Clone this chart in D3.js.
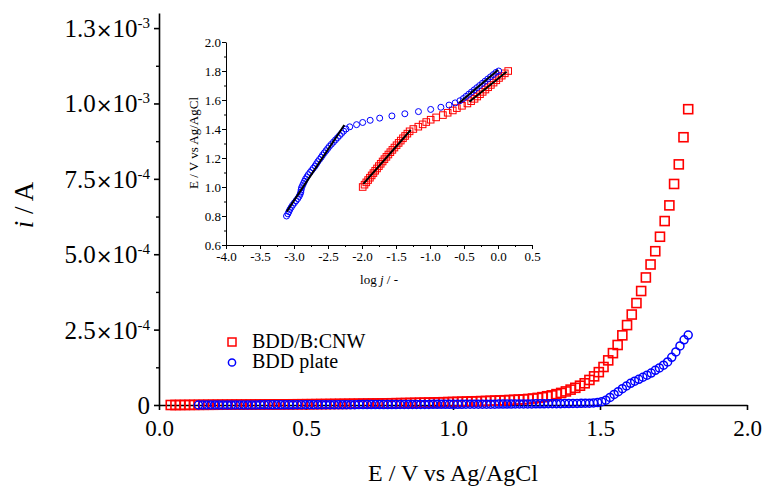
<!DOCTYPE html>
<html><head><meta charset="utf-8">
<script src="https://cdn.jsdelivr.net/npm/d3@7"></script>
<style>
body{margin:0;background:#fff}
svg{display:block}
text{font-family:"Liberation Serif","Times New Roman",serif;fill:#000}
</style>
</head><body>
<svg id="c" width="765" height="487"></svg>
<script>
// ---------------- DATA ----------------
// Main chart: current (units of 1e-4 A) vs potential (V vs Ag/AgCl)
const redE = [0.040,0.056,0.072,0.088,0.104,0.120,0.136,0.152,0.168,0.184,0.200,0.216,0.232,0.248,0.264,0.280,0.296,0.312,0.328,0.344,0.360,0.376,0.392,0.408,0.424,0.440,0.456,0.472,0.488,0.504,0.520,0.536,0.552,0.568,0.584,0.600,0.616,0.632,0.648,0.664,0.680,0.696,0.712,0.728,0.744,0.760,0.776,0.792,0.808,0.824,0.840,0.856,0.872,0.888,0.904,0.920,0.936,0.952,0.968,0.984,1.000,1.016,1.032,1.048,1.064,1.080,1.096,1.112,1.128,1.144,1.160,1.176,1.192,1.208,1.224,1.240,1.256,1.272,1.288,1.304,1.320,1.336,1.352,1.368,1.384,1.400,1.416,1.432,1.448,1.464,1.480,1.496,1.512,1.528,1.544,1.560,1.576,1.592,1.608,1.624,1.640,1.656,1.672,1.688,1.704,1.720,1.736,1.752,1.768,1.784,1.800];
const redI = [0.000,0.000,0.001,0.002,0.003,0.004,0.005,0.006,0.007,0.008,0.009,0.010,0.011,0.012,0.013,0.013,0.014,0.015,0.016,0.017,0.018,0.019,0.020,0.021,0.022,0.023,0.024,0.025,0.026,0.027,0.028,0.030,0.031,0.032,0.034,0.035,0.037,0.038,0.040,0.041,0.043,0.045,0.047,0.049,0.051,0.053,0.056,0.058,0.061,0.063,0.066,0.069,0.072,0.075,0.078,0.081,0.085,0.089,0.093,0.097,0.101,0.105,0.110,0.114,0.119,0.124,0.129,0.134,0.140,0.146,0.152,0.158,0.165,0.172,0.180,0.189,0.200,0.215,0.235,0.26,0.29,0.32,0.36,0.40,0.45,0.51,0.57,0.64,0.72,0.83,0.95,1.09,1.26,1.48,1.72,1.99,2.31,2.65,3.00,3.38,3.78,4.23,4.66,5.10,5.58,6.10,6.62,7.33,7.98,8.88,9.81];

const blueE = [0.134,0.148,0.162,0.176,0.190,0.204,0.218,0.232,0.246,0.260,0.274,0.288,0.302,0.316,0.330,0.344,0.358,0.372,0.386,0.400,0.414,0.428,0.442,0.456,0.470,0.484,0.498,0.512,0.526,0.540,0.554,0.568,0.582,0.596,0.610,0.624,0.638,0.652,0.666,0.680,0.694,0.708,0.722,0.736,0.750,0.764,0.778,0.792,0.806,0.820,0.834,0.848,0.862,0.876,0.890,0.904,0.918,0.932,0.946,0.960,0.974,0.988,1.002,1.016,1.030,1.044,1.058,1.072,1.086,1.100,1.114,1.128,1.142,1.156,1.170,1.184,1.198,1.212,1.226,1.240,1.254,1.268,1.282,1.296,1.310,1.324,1.338,1.352,1.366,1.380,1.394,1.408,1.422,1.436,1.450,1.464,1.478,1.492,1.506,1.520,1.534,1.548,1.562,1.576,1.590,1.604,1.618,1.632,1.646,1.660,1.674,1.688,1.702,1.716,1.730,1.744,1.758,1.772,1.786,1.800];
const blueI = [0.000,0.000,0.000,0.001,0.001,0.001,0.002,0.002,0.002,0.003,0.003,0.003,0.004,0.004,0.004,0.005,0.005,0.005,0.006,0.006,
0.006,0.007,0.007,0.007,0.008,0.008,0.008,0.009,0.009,0.009,0.010,0.010,0.010,0.011,0.011,0.011,0.012,0.012,0.012,0.013,
0.013,0.013,0.014,0.014,0.015,0.015,0.015,0.016,0.016,0.017,0.017,0.018,0.018,0.019,0.019,0.020,0.020,0.021,0.021,0.022,
0.022,0.023,0.023,0.024,0.024,0.025,0.025,0.026,0.027,0.027,0.028,0.029,0.029,0.030,0.031,0.031,0.032,0.033,0.034,0.035,
0.036,0.037,0.038,0.039,0.040,0.041,0.042,0.043,0.045,0.046,0.048,0.050,0.052,0.055,
0.058,0.062,0.068,0.080,0.11,0.16,0.25,0.35,0.44,0.54,0.63,0.72,0.79,0.85,0.92,0.99,1.06,1.15,1.23,1.32,1.43,1.58,1.76,1.96,2.16,2.32];

const xTicks = [0, 0.5, 1.0, 1.5, 2.0];
const xTickLabels = ["0.0","0.5","1.0","1.5","2.0"];
const yTicks = [0, 2.5, 5.0, 7.5, 10.0, 12.5];           // units of 1e-4 A
const yMinorTicks = [1.25, 3.75, 6.25, 8.75, 11.25];
const yTickMantissa = ["0","2.5","5.0","7.5","1.0","1.3"];
const yTickExponent = ["","-4","-4","-4","-3","-3"];
const seriesNames = ["BDD/B:CNW","BDD plate"];

// Inset: E vs log j
const insetRedE = [1.000,1.016,1.032,1.048,1.064,1.080,1.096,1.112,1.128,1.144,1.160,1.176,1.192,1.208,1.224,1.240,1.256,1.272,1.288,1.304,1.320,1.336,1.352,1.368,1.384,1.400,1.416,1.432,1.448,1.464,1.480,1.496,1.512,1.528,1.544,1.560,1.576,1.592,1.608,1.624,1.640,1.656,1.672,1.688,1.704,1.720,1.736,1.752,1.768,1.784,1.800];
const insetRedLogJ = [-1.990,-1.963,-1.937,-1.910,-1.884,-1.858,-1.832,-1.806,-1.779,-1.752,-1.725,-1.697,-1.670,-1.641,-1.612,-1.583,-1.553,-1.523,-1.492,-1.461,-1.430,-1.398,-1.366,-1.333,-1.300,-1.245,-1.172,-1.108,-1.055,-0.990,-0.910,-0.810,-0.740,-0.665,-0.605,-0.530,-0.450,-0.395,-0.345,-0.305,-0.265,-0.225,-0.185,-0.145,-0.105,-0.065,-0.025,0.015,0.055,0.100,0.150];

const insetBlueE = [0.800,0.815,0.830,0.845,0.860,0.875,0.890,0.905,0.920,0.935,0.950,0.965,0.980,0.995,1.010,1.025,1.040,1.055,1.070,1.085,1.100,1.115,1.130,1.145,1.160,1.175,1.190,1.205,1.220,1.235,1.250,1.265,1.280,1.295,1.310,1.325,1.340,1.355,1.370,1.385,1.400,1.415,1.430,1.445,1.460,1.475,1.490,1.505,1.520,1.535,1.550,1.565,1.580,1.595,1.610,1.625,1.640,1.655,1.670,1.685,1.700,1.715,1.730,1.745,1.760,1.775,1.790,1.800];
const insetBlueLogJ = [-3.110,-3.090,-3.075,-3.060,-3.040,-3.020,-2.995,-2.970,-2.945,-2.925,-2.910,-2.900,-2.895,-2.890,-2.875,-2.860,-2.845,-2.830,-2.810,-2.790,-2.765,-2.740,-2.715,-2.690,-2.670,-2.650,-2.625,-2.600,-2.580,-2.555,-2.530,-2.505,-2.480,-2.450,-2.420,-2.390,-2.360,-2.330,-2.300,-2.270,-2.235,-2.180,-2.080,-1.990,-1.880,-1.740,-1.560,-1.370,-1.170,-0.990,-0.840,-0.720,-0.630,-0.560,-0.510,-0.470,-0.430,-0.390,-0.350,-0.310,-0.270,-0.230,-0.190,-0.150,-0.110,-0.070,-0.030,0.010];

// Tafel fit lines (log j, E) end points
const fitBlueLowLogJ = [-3.108, -2.260], fitBlueLowE = [0.830, 1.428];
const fitRedLowLogJ  = [-1.980, -1.284], fitRedLowE  = [1.021, 1.393];
const fitBlueHighLogJ= [-0.569, 0.000],  fitBlueHighE= [1.581, 1.807];
const fitRedHighLogJ = [-0.422, 0.127],  fitRedHighE = [1.588, 1.795];

const insetXTicks = [-4.0,-3.5,-3.0,-2.5,-2.0,-1.5,-1.0,-0.5,0.0,0.5];
const insetXMinor = [-3.75,-3.25,-2.75,-2.25,-1.75,-1.25,-0.75,-0.25,0.25];
const insetYTicks = [0.6,0.8,1.0,1.2,1.4,1.6,1.8,2.0];
const insetYMinor = [0.7,0.9,1.1,1.3,1.5,1.7,1.9];

const RED = "#ff0000", BLUE = "#0000ff";

// ---------------- DRAW ----------------
const svg = d3.select("#c");
const FONT = '"Liberation Serif","Times New Roman",serif';

// Main scales
const x = d3.scaleLinear().domain([0, 2]).range([159, 747]);
const y = d3.scaleLinear().domain([0, 13]).range([405, 13]);

function styleAxis(g, w){
  g.selectAll("path,line").attr("stroke","#000").attr("stroke-width",w);
  g.attr("font-family", FONT);
}

// x axis
const gx = svg.append("g").attr("transform","translate(0,405)")
  .call(d3.axisBottom(x).tickValues(xTicks).tickSize(5).tickSizeOuter(0)
        .tickFormat((d,i)=>xTickLabels[i]));
styleAxis(gx,1.6);
gx.selectAll("text").attr("font-size",23).attr("y",31).attr("dy",null).attr("fill","#000");

// y axis
const gy = svg.append("g").attr("transform","translate(159,0)")
  .call(d3.axisLeft(y).tickValues(yTicks).tickSize(5).tickSizeOuter(0).tickFormat(""));
styleAxis(gy,1.6);
svg.append("g").attr("transform","translate(159,0)")
  .call(d3.axisLeft(y).tickValues(yMinorTicks).tickSize(3).tickFormat(""))
  .call(g=>{g.select(".domain").remove(); styleAxis(g,1.4);});

// y tick labels with superscripts
yTicks.forEach((t,i)=>{
  const tx = svg.append("text").attr("x",150).attr("y",y(t)+9)
    .attr("text-anchor","end").attr("font-size",25);
  tx.append("tspan").text(yTickMantissa[i]);
  if (yTickExponent[i]) {
    tx.append("tspan").attr("font-family","DejaVu Sans").attr("font-size",20).text("\u00d7");
    tx.append("tspan").text("10");
    tx.append("tspan").attr("font-size",15).attr("dy",-9).text(yTickExponent[i]);
  }
});

// axis titles
svg.append("text").attr("x",453).attr("y",481).attr("text-anchor","middle")
  .attr("font-size",24).text("E / V vs Ag/AgCl");
const yt = svg.append("text").attr("transform","translate(33,205) rotate(-90)")
  .attr("text-anchor","middle").attr("font-size",27);
yt.append("tspan").attr("font-style","italic").text("i");
yt.append("tspan").text(" / A");

// main data
const red = redE.map((e,i)=>({e, v:redI[i]}));
const blue = blueE.map((e,i)=>({e, v:blueI[i]}));
const SQ = 9;
svg.append("g").selectAll("rect").data(red).join("rect")
  .attr("x",d=>x(d.e)-SQ/2).attr("y",d=>y(d.v)-SQ/2).attr("width",SQ).attr("height",SQ)
  .attr("fill","none").attr("stroke",RED).attr("stroke-width",1.6);
svg.append("g").selectAll("circle").data(blue).join("circle")
  .attr("cx",d=>x(d.e)).attr("cy",d=>y(d.v)).attr("r",4)
  .attr("fill","none").attr("stroke",BLUE).attr("stroke-width",1.5);

// legend
const lg = svg.append("g");
lg.append("rect").attr("x",232-4).attr("y",342-4).attr("width",8).attr("height",8)
  .attr("fill","none").attr("stroke",RED).attr("stroke-width",1.5);
lg.append("circle").attr("cx",232).attr("cy",362.5).attr("r",3.6)
  .attr("fill","none").attr("stroke",BLUE).attr("stroke-width",1.5);
lg.append("text").attr("x",252).attr("y",348).attr("font-size",20).text(seriesNames[0]);
lg.append("text").attr("x",252).attr("y",368).attr("font-size",20).text(seriesNames[1]);

// ---------------- INSET ----------------
const ix = d3.scaleLinear().domain([-4, 0.5]).range([226, 532]);
const iy = d3.scaleLinear().domain([0.6, 2.0]).range([245, 42]);

const igx = svg.append("g").attr("transform","translate(0,245)")
  .call(d3.axisBottom(ix).tickValues(insetXTicks).tickSize(4).tickSizeOuter(0).tickFormat(d3.format(".1f")));
styleAxis(igx,1);
igx.selectAll("text").attr("font-size",13).attr("y",16).attr("dy",null).attr("fill","#000")
  .text(d=>d3.format(".1f")(d).replace("−","-"));
svg.append("g").attr("transform","translate(0,245)")
  .call(d3.axisBottom(ix).tickValues(insetXMinor).tickSize(2).tickFormat(""))
  .call(g=>{g.select(".domain").remove(); styleAxis(g,1);});

const igy = svg.append("g").attr("transform","translate(226,0)")
  .call(d3.axisLeft(iy).tickValues(insetYTicks).tickSize(4).tickSizeOuter(0).tickFormat(d3.format(".1f")));
styleAxis(igy,1);
igy.selectAll("text").attr("font-size",13).attr("x",-5).attr("dy","0.35em").attr("fill","#000");
svg.append("g").attr("transform","translate(226,0)")
  .call(d3.axisLeft(iy).tickValues(insetYMinor).tickSize(2).tickFormat(""))
  .call(g=>{g.select(".domain").remove(); styleAxis(g,1);});

const ixt = svg.append("text").attr("x",379).attr("y",284).attr("text-anchor","middle").attr("font-size",13);
ixt.append("tspan").text("log ");
ixt.append("tspan").attr("font-style","italic").text("j");
ixt.append("tspan").text(" / -");
svg.append("text").attr("transform","translate(198,143) rotate(-90)")
  .attr("text-anchor","middle").attr("font-size",13).text("E / V vs Ag/AgCl");

const iRed = insetRedE.map((e,i)=>({e, l:insetRedLogJ[i]}));
const iBlue = insetBlueE.map((e,i)=>({e, l:insetBlueLogJ[i]}));
svg.append("g").selectAll("rect").data(iRed).join("rect")
  .attr("x",d=>ix(d.l)-3.3).attr("y",d=>iy(d.e)-3.3).attr("width",6.6).attr("height",6.6)
  .attr("fill","none").attr("stroke",RED).attr("stroke-width",1);
svg.append("g").selectAll("circle").data(iBlue).join("circle")
  .attr("cx",d=>ix(d.l)).attr("cy",d=>iy(d.e)).attr("r",3)
  .attr("fill","none").attr("stroke",BLUE).attr("stroke-width",1);

const fits = [[fitBlueLowLogJ,fitBlueLowE],[fitRedLowLogJ,fitRedLowE],[fitBlueHighLogJ,fitBlueHighE],[fitRedHighLogJ,fitRedHighE]];
const line = d3.line().x(d=>ix(d[0])).y(d=>iy(d[1]));
svg.append("g").selectAll("path").data(fits).join("path")
  .attr("d",f=>line(f[0].map((l,i)=>[l,f[1][i]])))
  .attr("stroke","#000").attr("stroke-width",2).attr("fill","none");
</script>
</body></html>
